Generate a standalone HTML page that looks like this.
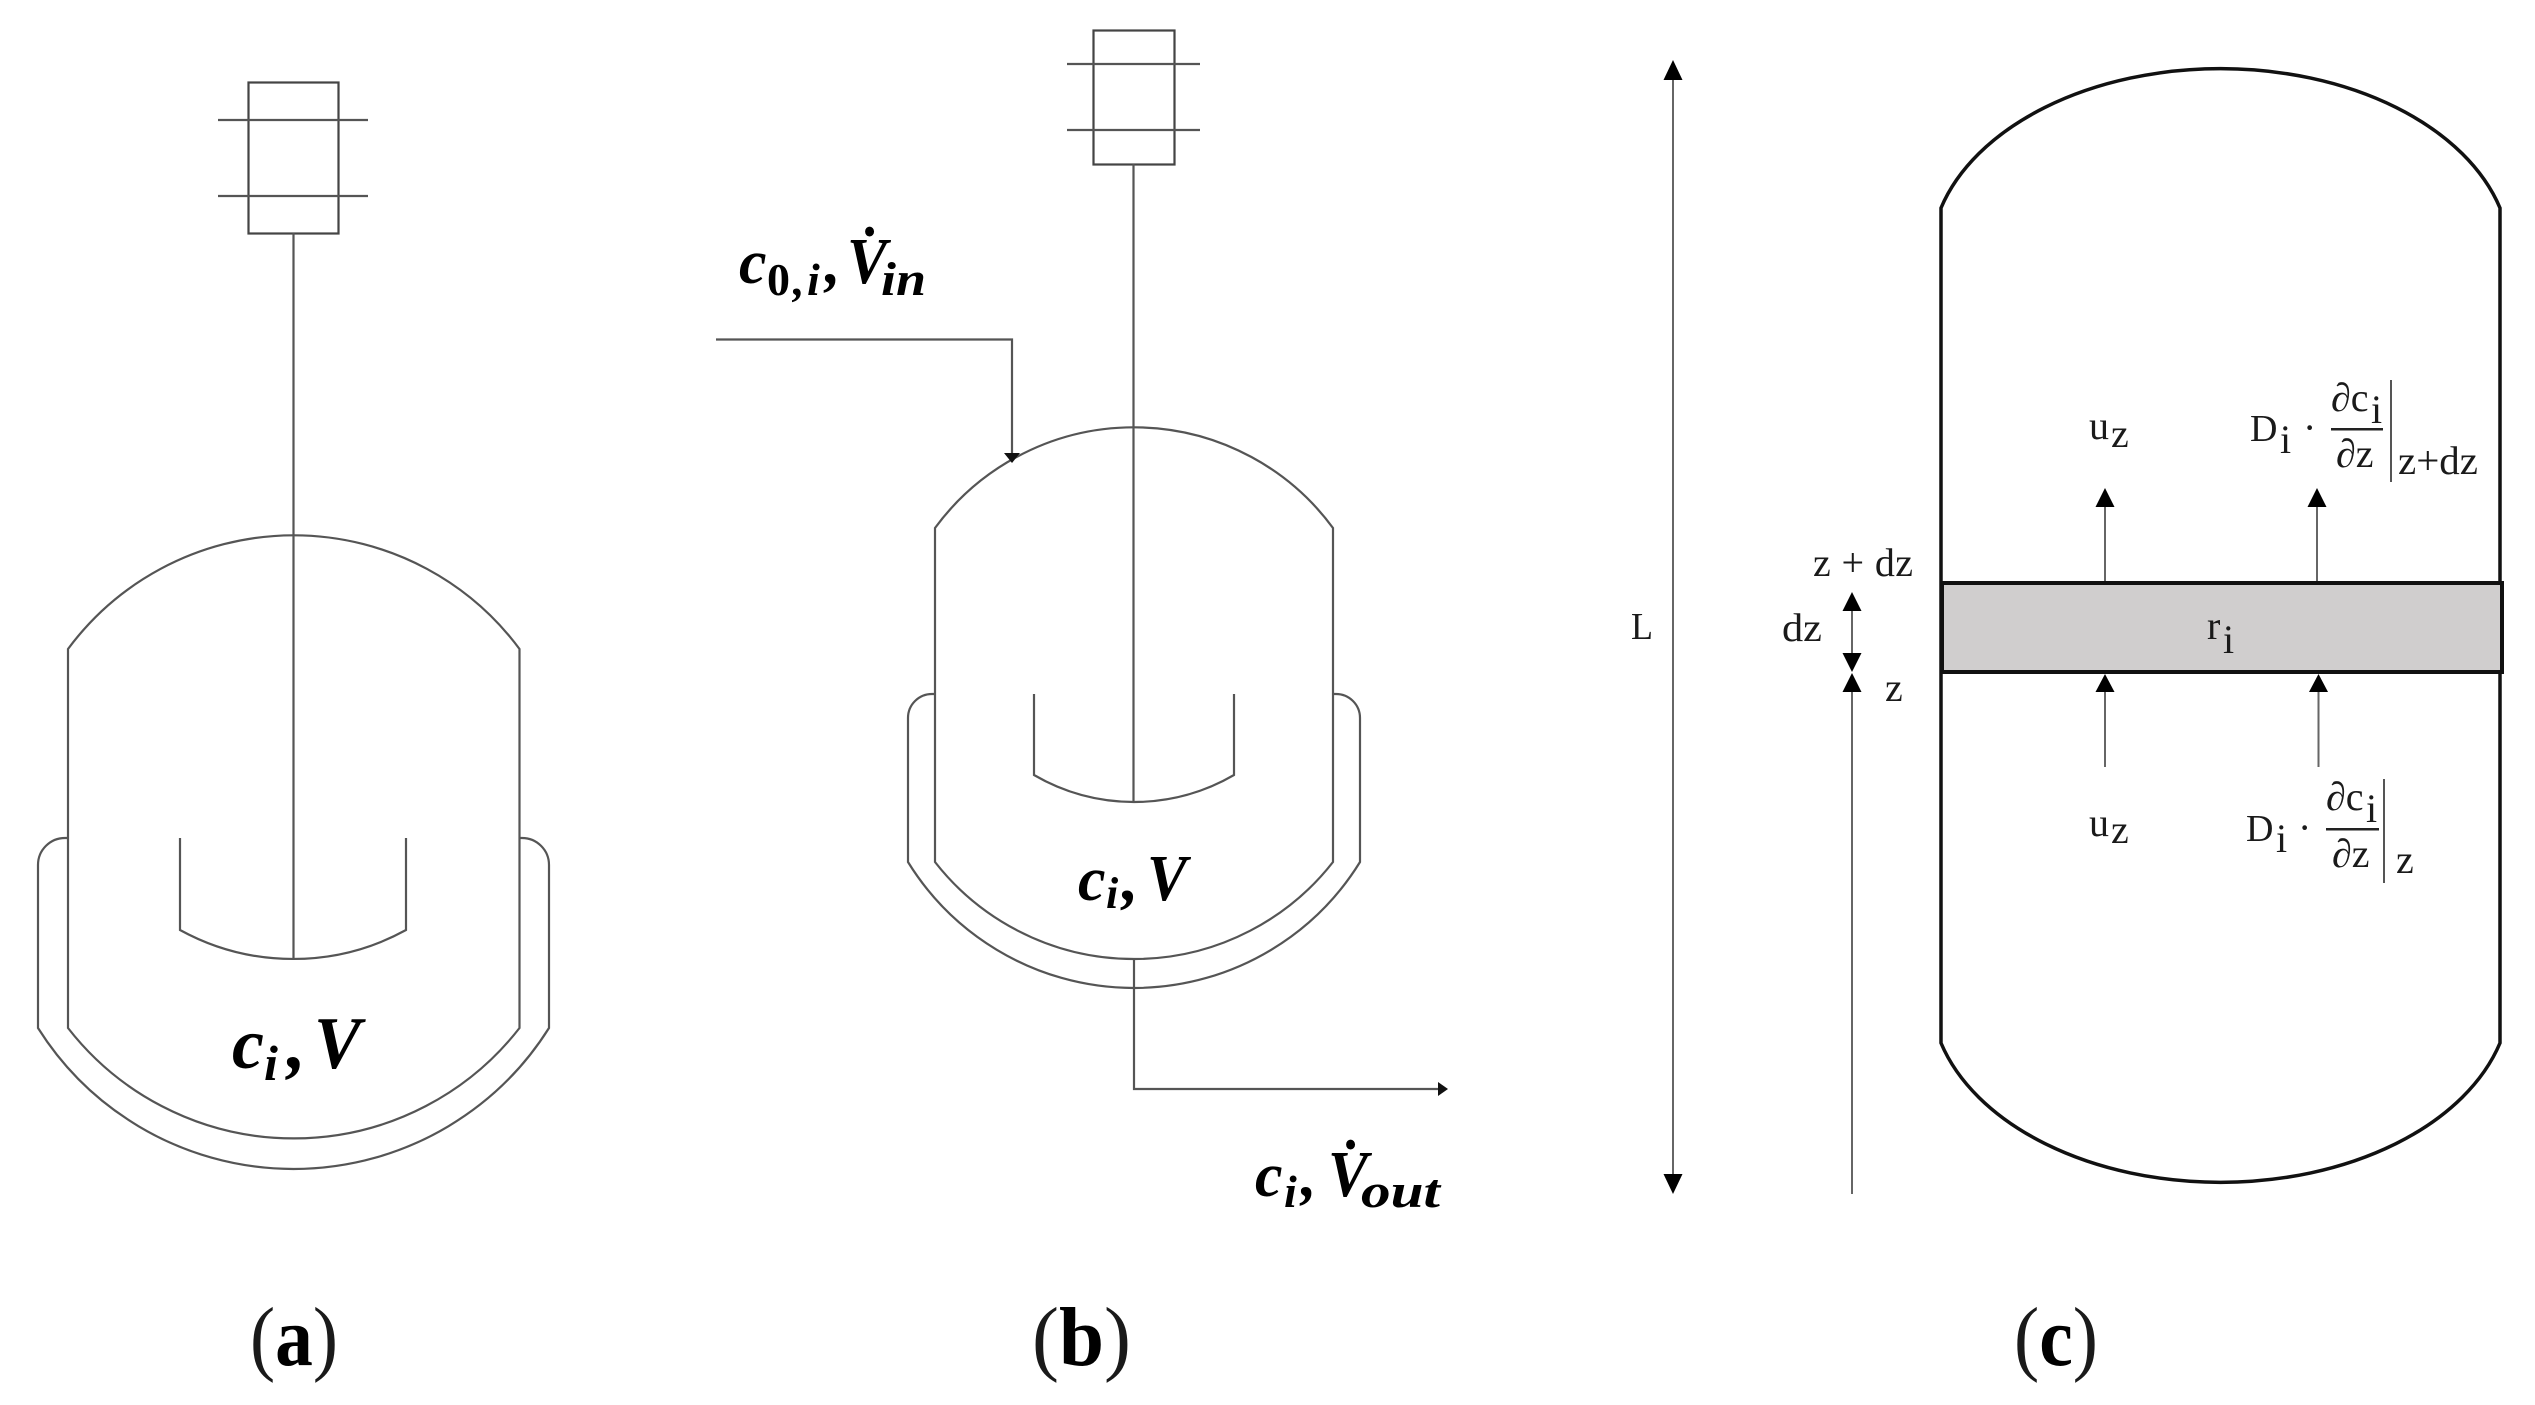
<!DOCTYPE html>
<html><head><meta charset="utf-8">
<style>
html,body{margin:0;padding:0;background:#fff;width:2535px;height:1405px;overflow:hidden}
svg{display:block}
text{font-family:"Liberation Serif",serif;fill:#1a1a1a}
.m{font-weight:bold;font-style:italic;fill:#000}
.l{font-size:40px}
.s{font-size:40px}
.t{font-size:38px}
.cap{font-size:84px}
.b{font-weight:bold;fill:#000}
</style></head><body>
<svg width="2535" height="1405" viewBox="0 0 2535 1405" xmlns="http://www.w3.org/2000/svg">
<rect width="2535" height="1405" fill="#fff"/>

<!-- Panel a -->
<g fill="none" stroke="#555" stroke-width="2.2">
<rect x="248.500" y="82.500" width="90" height="151" stroke="#444"/>
<path d="M218 120H368M218 196H368"/>
<path d="M293.500 233V958"/>
<path d="M68 838V649A281 281 0 0 1 519.500 649V1028A286 286 0 0 1 68 1028V838"/>
<path d="M67 838H65A27 27 0 0 0 38 865V1028A302 302 0 0 0 549 1028V865A27 27 0 0 0 522 838H520"/>
<path d="M180 838V930A235 235 0 0 0 406 930V838"/>
</g>
<text class="m" x="232" y="1068" font-size="72">c</text>
<text class="m" x="264" y="1080" font-size="50">i</text>
<text class="m" x="287" y="1068" font-size="76">,</text>
<text class="m" x="314" y="1068" font-size="74" textLength="47" lengthAdjust="spacingAndGlyphs">V</text>
<text class="cap" x="250" y="1365" textLength="88" lengthAdjust="spacingAndGlyphs">(<tspan class="b">a</tspan>)</text>

<!-- Panel b -->
<g fill="none" stroke="#555" stroke-width="2.2">
<rect x="1093.500" y="30.500" width="81" height="134" stroke="#444"/>
<path d="M1067 64H1200M1067 130H1200"/>
<path d="M1133.500 164V802"/>
<path d="M935 694V528A247 247 0 0 1 1333 528V862A252.600 252.600 0 0 1 935 862V694"/>
<path d="M934 694H932A24 24 0 0 0 908 718V862A265.700 265.700 0 0 0 1360 862V718A24 24 0 0 0 1336 694H1334"/>
<path d="M1034 694V775A198.700 198.700 0 0 0 1234 775V694"/>
<path d="M716 339.500H1012V455"/>
<path d="M1134 959V1089H1441"/>
</g>
<path d="M1004 453H1020L1012 463Z" fill="#111"/>
<path d="M1438 1082L1448 1089L1438 1096Z" fill="#111"/>
<text class="m" x="739" y="283" font-size="62">c</text>
<text font-weight="bold" style="fill:#000" x="767" y="295" font-size="46">0</text>
<text class="m" x="793" y="295" font-size="46">,</text>
<text class="m" x="807" y="295" font-size="46">i</text>
<text class="m" x="825" y="283" font-size="62">,</text>
<text class="m" x="847" y="283" font-size="66" textLength="40" lengthAdjust="spacingAndGlyphs">V&#775;</text>
<text class="m" x="881" y="295" font-size="48" textLength="45" lengthAdjust="spacingAndGlyphs">in</text>

<text class="m" x="1078" y="900" font-size="62">c</text>
<text class="m" x="1106" y="908" font-size="44">i</text>
<text class="m" x="1122" y="900" font-size="66">,</text>
<text class="m" x="1147" y="900" font-size="66" textLength="40" lengthAdjust="spacingAndGlyphs">V</text>

<text class="m" x="1255" y="1196" font-size="62">c</text>
<text class="m" x="1284" y="1207" font-size="46">i</text>
<text class="m" x="1301" y="1196" font-size="62">,</text>
<text class="m" x="1328" y="1196" font-size="66" textLength="40" lengthAdjust="spacingAndGlyphs">V&#775;</text>
<text class="m" x="1361" y="1207" font-size="48" textLength="79" lengthAdjust="spacingAndGlyphs">out</text>
<text class="cap" x="1032" y="1365" textLength="99" lengthAdjust="spacingAndGlyphs">(<tspan class="b">b</tspan>)</text>

<!-- Panel c -->
<g fill="none" stroke="#666" stroke-width="2">
<path d="M1673 78V1178"/>
<path d="M1852 1194V690"/>
<path d="M1852 608V656"/>
<path d="M2105 505V582M2317 505V582"/>
<path d="M2105 690V767M2318.500 690V767"/>
</g>
<g fill="#000">
<path d="M1673 60L1682.500 80H1663.500Z"/>
<path d="M1673 1194L1682.500 1174H1663.500Z"/>
<path d="M1852 592L1861.500 611H1842.500Z"/>
<path d="M1852 672L1861.500 653H1842.500Z"/>
<path d="M1852 673L1861.500 692H1842.500Z"/>
<path d="M2105 488L2114.500 507H2095.500Z"/>
<path d="M2317 488L2326.500 507H2307.500Z"/>
<path d="M2105 674L2114.500 692H2095.500Z"/>
<path d="M2318.500 674L2328 692H2309Z"/>
</g>
<path d="M1941 1043V208A290 190 0 0 1 2500 208V1043A290 190 0 0 1 1941 1043Z" fill="none" stroke="#111" stroke-width="3.500"/>
<rect x="1942" y="583" width="560" height="89" fill="#d0cece" stroke="#111" stroke-width="4"/>

<text class="t" x="1631" y="639" textLength="22" lengthAdjust="spacingAndGlyphs">L</text>
<text class="l" x="1782" y="641" textLength="40" lengthAdjust="spacingAndGlyphs">dz</text>
<text class="l" x="1813" y="576" textLength="100" lengthAdjust="spacing">z + dz</text>
<text class="l" x="1885" y="701">z</text>
<text class="l" x="2207" y="639">r</text>
<text class="s" x="2223" y="653">i</text>

<text class="l" x="2089" y="439">u</text>
<text class="l" x="2111" y="447">z</text>
<text class="l" x="2089" y="836">u</text>
<text class="l" x="2111" y="843">z</text>

<text class="t" x="2250" y="441">D</text>
<text class="s" x="2280" y="453">i</text>
<text class="l" x="2303" y="441">·</text>
<text class="l" x="2331" y="411">∂c</text>
<text class="s" x="2371" y="423">i</text>
<rect x="2331" y="428" width="52" height="2.500" fill="#222"/>
<text class="l" x="2336" y="467">∂z</text>
<rect x="2390" y="380" width="2" height="102" fill="#555"/>
<text class="l" x="2398" y="474" textLength="80" lengthAdjust="spacingAndGlyphs">z+dz</text>

<text class="t" x="2246" y="841">D</text>
<text class="s" x="2276" y="852">i</text>
<text class="l" x="2298" y="841">·</text>
<text class="l" x="2326" y="810">∂c</text>
<text class="s" x="2366" y="822">i</text>
<rect x="2326" y="828" width="53" height="2.500" fill="#222"/>
<text class="l" x="2332" y="867">∂z</text>
<rect x="2383" y="779" width="2" height="104" fill="#555"/>
<text class="l" x="2396" y="873">z</text>

<text class="cap" x="2014" y="1365" textLength="84" lengthAdjust="spacingAndGlyphs">(<tspan class="b">c</tspan>)</text>
</svg>
</body></html>
